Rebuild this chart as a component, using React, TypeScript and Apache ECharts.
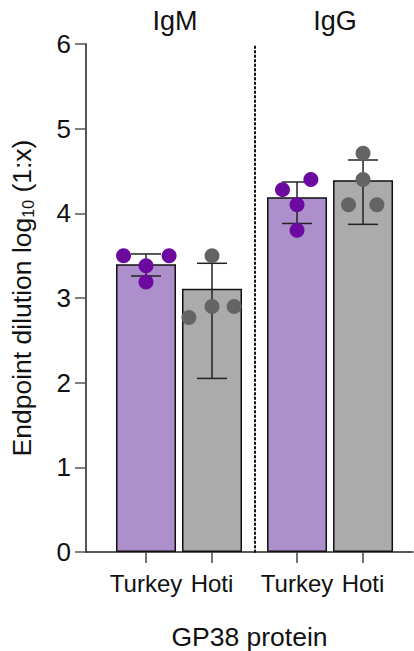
import React, { useEffect, useRef } from "react";
import * as echarts from "echarts";

const groups = ["IgM", "IgG"];
const categories = ["Turkey", "Hoti", "Turkey", "Hoti"];
const groupOf = [0, 0, 1, 1];
const means = [3.4, 3.11, 4.19, 4.39];
const errUpper = [3.52, 3.41, 4.37, 4.63];
const errLower = [3.26, 2.05, 3.88, 3.87];
const points = [
  [3.5, 3.5, 3.38, 3.19],
  [3.5, 2.77, 2.9, 2.9],
  [4.28, 4.4, 4.1, 3.8],
  [4.71, 4.4, 4.1, 4.1],
];
const pointOffsets = [
  [-0.34, 0.35, 0, 0],
  [0, -0.35, 0, 0.335],
  [-0.22, 0.21, 0, 0],
  [0, 0, -0.22, 0.21],
];
const yTicks = [0, 1, 2, 3, 4, 5, 6];

const barColors = ["#AD8FCB", "#ABABAB", "#AD8FCB", "#ABABAB"];
const dotColors = ["#6C0AA0", "#646464", "#6C0AA0", "#646464"];
const GROUP_GAP = 0.288;

export default function App() {
  const ref = useRef<HTMLDivElement>(null);
  useEffect(() => {
    document.body.style.margin = "0";
    const chart = echarts.init(ref.current!, null, { renderer: "svg" });
    const positions = categories.map((_, i) => i + groupOf[i] * GROUP_GAP);
    const divider = (positions[1] + positions[2]) / 2;
    const font = "Liberation Sans, Arial, Helvetica, sans-serif";

    const barData = means.map((m, i) => ({
      value: [positions[i], m],
      itemStyle: { color: barColors[i] },
    }));
    const errData = means.map((_, i) => [positions[i], errLower[i], errUpper[i]]);
    const dotData: any[] = [];
    points.forEach((arr, i) =>
      arr.forEach((v, j) =>
        dotData.push({
          value: [positions[i] + pointOffsets[i][j], v],
          itemStyle: { color: dotColors[i], opacity: 1 },
        })
      )
    );

    const option: any = {
      animation: false,
      grid: { left: 86, right: 1, top: 44, bottom: 99, containLabel: false, outerBoundsMode: "none" },
      xAxis: {
        type: "value",
        min: -0.909,
        max: 4.045,
        splitLine: { show: false },
        axisLine: { show: true, onZero: false, lineStyle: { color: "#222", width: 1.5 } },
        axisTick: {
          show: true,
          length: 11,
          customValues: positions,
          lineStyle: { color: "#444", width: 1.5 },
        },
        axisLabel: {
          customValues: positions,
          margin: 19,
          fontSize: 24,
          color: "#111",
          fontFamily: font,
          formatter: (v: number) => {
            const i = positions.findIndex((p) => Math.abs(p - v) < 1e-6);
            return i >= 0 ? categories[i] : "";
          },
        },
        name: "GP38 protein",
        nameLocation: "middle",
        nameGap: 71,
        nameTextStyle: { fontSize: 26.5, color: "#111", fontFamily: font },
      },
      yAxis: {
        type: "value",
        min: yTicks[0],
        max: yTicks[yTicks.length - 1],
        interval: 1,
        splitLine: { show: false },
        axisLine: { show: true, onZero: false, lineStyle: { color: "#555", width: 2 } },
        axisTick: { show: true, length: 11, lineStyle: { color: "#555", width: 1.5 } },
        axisLabel: { margin: 15, fontSize: 26, color: "#111", fontFamily: font },
        name: "Endpoint dilution log{sub|10} (1:x)",
        nameLocation: "middle",
        nameGap: 50,
        nameTextStyle: {
          fontSize: 26.5,
          color: "#111",
          fontFamily: font,
          rich: {
            sub: { fontSize: 16, verticalAlign: "bottom", padding: [13, 0, 0, 0], fontFamily: font, color: "#111" },
          },
        },
      },
      graphic: groups.map((g, i) => ({
        type: "text",
        x: i === 0 ? 175 : 335,
        y: 21,
        style: {
          text: g,
          fontSize: 27,
          fill: "#111",
          fontFamily: font,
          align: "center",
          verticalAlign: "middle",
        },
      })),
      series: [
        {
          type: "bar",
          data: barData,
          barWidth: 60,
          z: 2,
          itemStyle: { borderColor: "#111", borderWidth: 1.5 },
        },
        {
          type: "line",
          data: [],
          markLine: {
            silent: true,
            symbol: "none",
            label: { show: false },
            lineStyle: { color: "#111", type: [1.5, 3], width: 2, cap: "round" },
            data: [{ xAxis: divider }],
          },
        },
        {
          type: "custom",
          z: 3,
          data: errData,
          encode: { x: 0, y: [1, 2] },
          renderItem: (params: any, api: any) => {
            const x = api.value(0);
            const lo = api.coord([x, api.value(1)]);
            const hi = api.coord([x, api.value(2)]);
            const half = 15;
            const style = { stroke: "#222", lineWidth: 1.5 };
            return {
              type: "group",
              children: [
                { type: "line", shape: { x1: lo[0], y1: lo[1], x2: hi[0], y2: hi[1] }, style },
                { type: "line", shape: { x1: hi[0] - half, y1: hi[1], x2: hi[0] + half, y2: hi[1] }, style },
                { type: "line", shape: { x1: lo[0] - half, y1: lo[1], x2: lo[0] + half, y2: lo[1] }, style },
              ],
            };
          },
        },
        {
          type: "scatter",
          z: 4,
          symbolSize: 15,
          itemStyle: { opacity: 1 },
          data: dotData,
        },
      ],
    };
    chart.setOption(option);
    return () => chart.dispose();
  }, []);
  return <div ref={ref} style={{ width: 414, height: 651 }} />;
}
